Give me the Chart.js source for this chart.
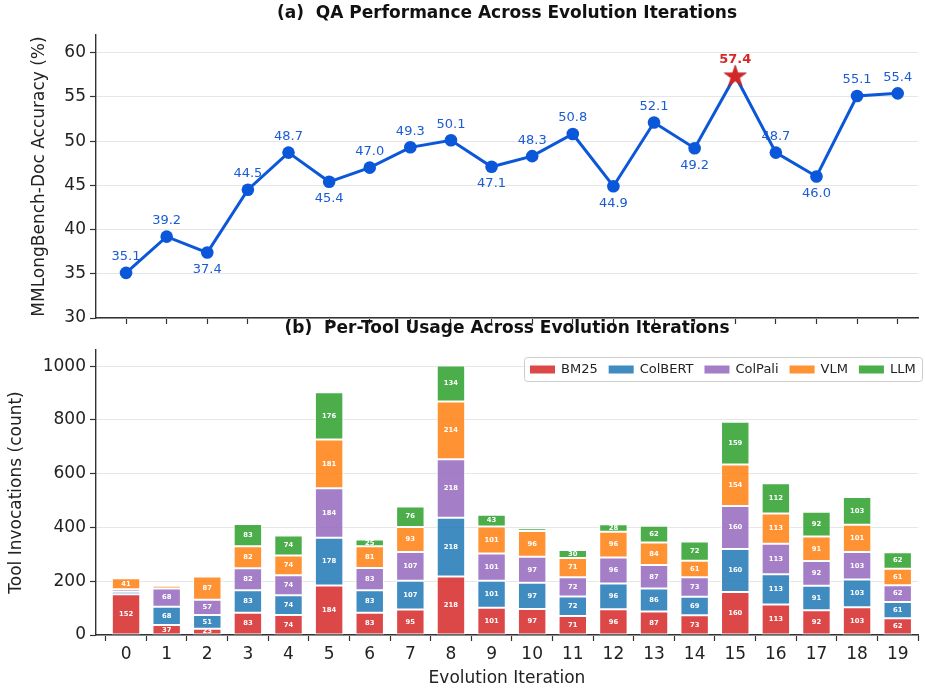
<!DOCTYPE html>
<html><head><meta charset="utf-8">
<script src="https://cdn.jsdelivr.net/npm/chart.js@4"></script>
<style>
body{margin:0;background:#fff;width:925px;height:690px;position:relative;overflow:hidden}
canvas{position:absolute;left:0}
</style></head><body>
<canvas id="c1" width="925" height="330" style="top:0px"></canvas>
<canvas id="c2" width="925" height="372" style="top:318px"></canvas>
<script>
const iterations = [0,1,2,3,4,5,6,7,8,9,10,11,12,13,14,15,16,17,18,19];
const accuracy = [35.1,39.2,37.4,44.5,48.7,45.4,47.0,49.3,50.1,47.1,48.3,50.8,44.9,52.1,49.2,57.4,48.7,46.0,55.1,55.4];
const accTicks = [30,35,40,45,50,55,60];
const toolNames = ['BM25','ColBERT','ColPali','VLM','LLM'];
const bm25    = [152,37,23,83,74,184,83,95,218,101,97,71,96,87,73,160,113,92,103,62];
const colbert = [9,68,51,83,74,178,83,107,218,101,97,72,96,86,69,160,113,91,103,61];
const colpali = [9,68,57,82,74,184,83,107,218,101,97,72,96,87,73,160,113,92,103,62];
const vlm     = [41,10,87,82,74,181,81,93,214,101,96,71,96,84,61,154,113,91,101,61];
const llm     = [1,1,3,83,74,176,25,76,134,43,10,30,28,62,72,159,112,92,103,62];
const countTicks = [0,200,400,600,800,1000];

const FONT = "'DejaVu Sans', sans-serif";
const LINE_BLUE = '#0b57d9';
const LABEL_BLUE = '#1a5bd6';
const RED = '#d62728';
const toolColors = ['rgba(214,39,40,0.85)','rgba(31,119,180,0.85)','rgba(148,103,189,0.85)','rgba(255,127,14,0.85)','rgba(44,160,44,0.85)'];
const toolSeries = [bm25,colbert,colpali,vlm,llm];

const bestIdx = accuracy.indexOf(Math.max(...accuracy));

function makeStar(r, color){
  const c = document.createElement('canvas');
  const s = Math.ceil(2*r+4);
  c.width = s; c.height = s;
  const g = c.getContext('2d');
  const cx = s/2, cy = s/2 + r*0.08;
  const ri = r*0.382;
  g.beginPath();
  for(let i=0;i<10;i++){
    const rad = i%2===0 ? r : ri;
    const a = -Math.PI/2 + i*Math.PI/5;
    const x = cx + rad*Math.cos(a), y = cy + rad*Math.sin(a);
    if(i===0) g.moveTo(x,y); else g.lineTo(x,y);
  }
  g.closePath();
  g.fillStyle = color; g.fill();
  g.lineWidth = 0.8; g.strokeStyle = '#b81f1f'; g.stroke();
  return c;
}
const star = makeStar(11.5, RED);

Chart.defaults.font.family = FONT;
Chart.defaults.animation = false;

const xMin = -0.74, xMax = 19.5;

function zeroPad(s){ s.paddingTop = 0; s.paddingBottom = 0; s.paddingLeft = 0; s.paddingRight = 0; }

function drawText(ctx, text, x, y, font, color, rot){
  ctx.save();
  ctx.font = font; ctx.fillStyle = color;
  ctx.textAlign = 'center'; ctx.textBaseline = 'middle';
  ctx.translate(x,y);
  if(rot) ctx.rotate(rot);
  ctx.fillText(text,0,0);
  ctx.restore();
}

const topPlugin = {
  id:'topPlugin',
  beforeDatasetsDraw(chart){
    const ctx = chart.ctx;
    const meta = chart.getDatasetMeta(0);
    accuracy.forEach((v,i)=>{
      const p = meta.data[i];
      const prev = accuracy[i-1], next = accuracy[i+1];
      const below = prev!==undefined && next!==undefined && v<prev && v<next;
      if(i===bestIdx){
        drawText(ctx, v.toFixed(1), p.x, p.y-16, "bold 13px "+FONT, RED);
      } else {
        drawText(ctx, v.toFixed(1), p.x, below ? p.y+17 : p.y-16, "13px "+FONT, LABEL_BLUE);
      }
    });
  },
  afterDraw(chart){
    const ctx = chart.ctx, a = chart.chartArea;
    drawText(ctx, '(a)  QA Performance Across Evolution Iterations', (a.left+a.right)/2, 14, "bold 17px "+FONT, '#111');
    drawText(ctx, 'MMLongBench-Doc Accuracy (%)', 40, (a.top+a.bottom)/2, "17px "+FONT, '#222', -Math.PI/2);
  }
};

new Chart(document.getElementById('c1'), {
  type:'line',
  data:{datasets:[{
    data: iterations.map((x,i)=>({x, y:accuracy[i]})),
    borderColor: LINE_BLUE, backgroundColor: LINE_BLUE,
    borderWidth: 3,
    pointRadius: 6.3,
    pointHoverRadius: 6.3,
    pointBackgroundColor: LINE_BLUE, pointBorderColor: LINE_BLUE, pointBorderWidth: 0,
    pointStyle: iterations.map((x,i)=> i===bestIdx ? star : 'circle'),
    tension: 0
  }]},
  options:{
    responsive:false, animation:false,
    layout:{padding:{top:35,right:7,left:0,bottom:0}},
    plugins:{legend:{display:false}, title:{display:false}, tooltip:{enabled:false}},
    scales:{
      x:{type:'linear', min:xMin, max:xMax,
        afterBuildTicks(s){ s.ticks = iterations.map(v=>({value:v})); },
        afterFit(s){ s.height = 12; zeroPad(s); },
        grid:{drawOnChartArea:false, drawTicks:true, tickLength:6, tickColor:'#333', tickWidth:1.2},
        border:{display:true, color:'#333', width:1.4},
        ticks:{display:false}
      },
      y:{min:30, max:62,
        afterBuildTicks(s){ s.ticks = accTicks.map(v=>({value:v})); },
        afterFit(s){ s.width = 96; zeroPad(s); },
        grid:{color:'#e6e6e6', lineWidth:1, tickColor:'#333', tickLength:6, tickWidth:1.2},
        border:{display:true, color:'#333', width:1.4},
        ticks:{font:{size:17, family:FONT}, color:'#222', padding:4, callback:(v)=>String(v)}
      }
    }
  },
  plugins:[topPlugin]
});

const botPlugin = {
  id:'botPlugin',
  afterDatasetsDraw(chart){
    const ctx = chart.ctx;
    toolSeries.forEach((arr,di)=>{
      const meta = chart.getDatasetMeta(di);
      arr.forEach((v,i)=>{
        if(v < 20) return;
        const el = meta.data[i];
        drawText(ctx, String(v), el.x, (el.y+el.base)/2, "bold 6.8px "+FONT, '#fff');
      });
    });
  },
  afterDraw(chart){
    const ctx = chart.ctx, a = chart.chartArea;
    drawText(ctx, '(b)  Per-Tool Usage Across Evolution Iterations', (a.left+a.right)/2, 11, "bold 17px "+FONT, '#111');
    drawText(ctx, 'Tool Invocations (count)', 17, (a.top+a.bottom)/2, "17px "+FONT, '#222', -Math.PI/2);
    drawText(ctx, 'Evolution Iteration', (a.left+a.right)/2, 361, "17px "+FONT, '#222');
    // legend
    ctx.save();
    ctx.font = "13px "+FONT;
    const bx = 524, by = 39, bw = 398, bh = 24;
    ctx.fillStyle = 'rgba(255,255,255,0.85)';
    ctx.strokeStyle = '#cccccc'; ctx.lineWidth = 1;
    ctx.beginPath();
    if(ctx.roundRect) ctx.roundRect(bx+0.5,by+0.5,bw,bh,3); else ctx.rect(bx+0.5,by+0.5,bw,bh);
    ctx.fill(); ctx.stroke();
    let x = bx + 6;
    const cy = by + bh/2 + 0.5;
    toolNames.forEach((n,i)=>{
      ctx.fillStyle = toolColors[i];
      ctx.fillRect(x, cy-4, 25, 8);
      x += 31;
      ctx.fillStyle = '#222'; ctx.textAlign='left'; ctx.textBaseline='middle';
      ctx.fillText(n, x, cy);
      x += ctx.measureText(n).width + 11;
    });
    ctx.restore();
  }
};

new Chart(document.getElementById('c2'), {
  type:'bar',
  data:{datasets: toolSeries.map((arr,di)=>({
    label: toolNames[di],
    data: iterations.map((x,i)=>({x, y:arr[i]})),
    backgroundColor: toolColors[di],
    borderColor:'#ffffff', borderWidth:1,
    barPercentage:0.7, categoryPercentage:1.0, borderSkipped:false
  }))},
  options:{
    responsive:false, animation:false,
    layout:{padding:{top:32,right:7,left:0,bottom:0}},
    plugins:{legend:{display:false}, title:{display:false}, tooltip:{enabled:false}},
    scales:{
      x:{type:'linear', min:xMin, max:xMax, stacked:true, offset:false,
        afterBuildTicks(s){ s.ticks = iterations.map(v=>({value:v})); },
        afterFit(s){ s.height = 55; zeroPad(s); },
        grid:{drawOnChartArea:false, drawTicks:true, tickLength:6, tickColor:'#333', tickWidth:1.2},
        border:{display:true, color:'#333', width:1.4},
        ticks:{font:{size:17, family:FONT}, color:'#222', padding:3, maxRotation:0, autoSkip:false,
          callback:(v)=>String(v)}
      },
      y:{min:0, max:1060, stacked:true,
        afterBuildTicks(s){ s.ticks = countTicks.map(v=>({value:v})); },
        afterFit(s){ s.width = 96; zeroPad(s); },
        grid:{color:'#e6e6e6', lineWidth:1, tickColor:'#333', tickLength:6, tickWidth:1.2},
        border:{display:true, color:'#333', width:1.4},
        ticks:{font:{size:17, family:FONT}, color:'#222', padding:4, callback:(v)=>String(v)}
      }
    }
  },
  plugins:[botPlugin]
});
</script>
</body></html>
